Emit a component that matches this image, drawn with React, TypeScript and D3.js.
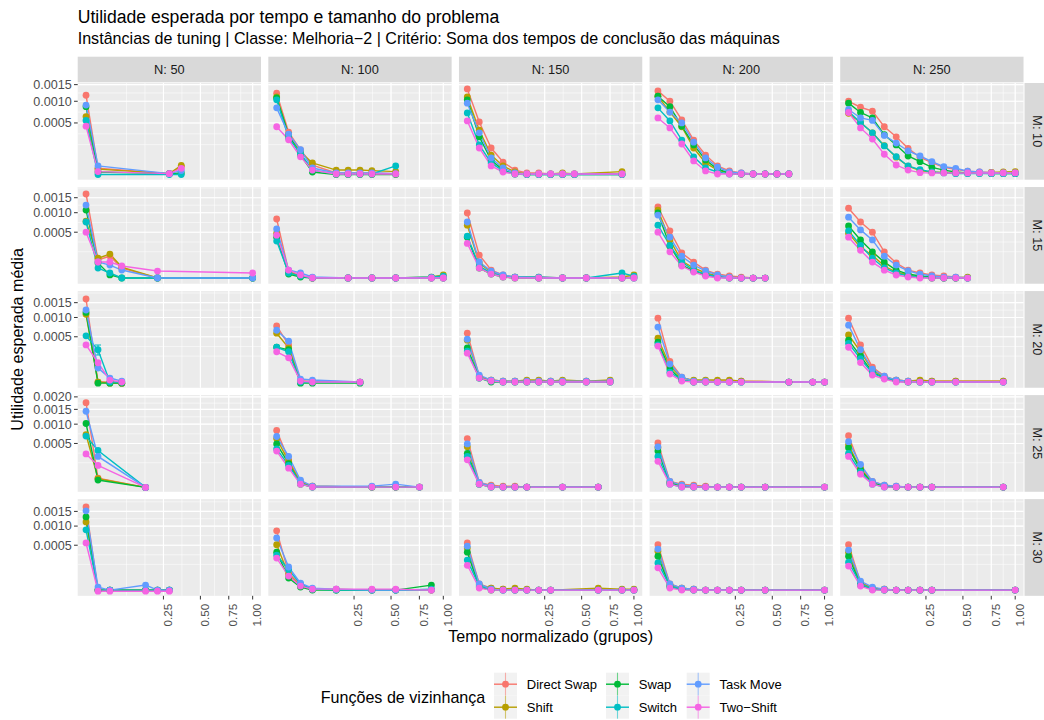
import React from 'react'
import * as d3 from 'd3'

// facet categories
const nValues = [50, 100, 150, 200, 250]
const mValues = [10, 15, 20, 25, 30]

const seriesNames = ['Direct Swap', 'Shift', 'Swap', 'Switch', 'Task Move', 'Two\u2212Shift']
const seriesColors = ['#F8766D', '#B79F00', '#00BA38', '#00BFC4', '#619CFF', '#F564E3']

// normalized time of each group (x values)
const timeBins = [0.0044, 0.0178, 0.04, 0.0711, 0.1111, 0.16, 0.2178, 0.2844, 0.36, 0.4444, 0.5378, 0.64, 0.7511, 0.8711, 1.0]

const xTicks = [0.25, 0.5, 0.75, 1.0]
const yTicks = [0.0005, 0.001, 0.0015, 0.002]
// limits of the y scale for each row (M)
const rowYMin = [0, 0, 0, 1.6e-6, 0]
const rowYMax = [0.00141, 0.00174, 0.00178, 0.00189, 0.00181]

// which time groups (1-based) each panel has, row-major: M10N50, M10N100, ... M30N250
const panelKs = [
  [1, 2, 8, 9],
  [1, 2, 3, 4, 6, 7, 8, 9, 11],
  [1, 2, 3, 4, 5, 6, 7, 8, 9, 10, 14],
  [1, 2, 3, 4, 5, 6, 7, 8, 9, 10, 11, 12],
  [1, 2, 3, 4, 5, 6, 7, 8, 9, 10, 11, 12, 13, 14, 15],
  [1, 2, 3, 4, 7, 15],
  [1, 2, 3, 4, 7, 9, 11, 14, 15],
  [1, 2, 3, 4, 5, 7, 9, 11, 14, 15],
  [1, 2, 3, 4, 5, 6, 7, 8, 9, 10],
  [1, 2, 3, 4, 5, 6, 7, 8, 9, 10, 11],
  [1, 2, 3, 4],
  [1, 2, 3, 4, 8],
  [1, 2, 3, 4, 5, 6, 7, 8, 9, 11, 13],
  [1, 2, 3, 4, 5, 6, 7, 8, 12, 14, 15],
  [1, 2, 3, 4, 5, 6, 7, 8, 10, 14],
  [1, 2, 6],
  [1, 2, 3, 4, 9, 11, 13],
  [1, 2, 3, 4, 5, 6, 9, 12],
  [1, 2, 3, 4, 5, 6, 7, 8, 10, 15],
  [1, 2, 3, 4, 5, 6, 7, 8, 14],
  [1, 2, 3, 6, 7, 8],
  [1, 2, 3, 4, 6, 9, 11, 14],
  [1, 2, 3, 4, 5, 6, 7, 8, 12, 14, 15],
  [1, 2, 3, 4, 5, 6, 7, 8, 10, 15],
  [1, 2, 3, 4, 5, 6, 7, 8, 15],
]

const directSwap = [
  [1.17e-3, 9e-6, 5e-7, 1.4e-5],
  [1.23e-3, 3.4e-4, 1.17e-4, 1.9e-5, 1e-6, 1e-6, 1e-6, 1e-6, 5e-7],
  [1.36e-3, 5.2e-4, 1.36e-4, 3.2e-5, 5e-6, 1e-6, 1e-6, 3e-7, 3e-7, 3e-7, 3e-7],
  [1.3e-3, 1.0e-3, 5.6e-4, 2.26e-4, 7.5e-5, 1.6e-5, 3.5e-6, 1e-6, 3e-7, 3e-7, 3e-7, 3e-7],
  [1.0e-3, 8.45e-4, 7.5e-4, 4.3e-4, 2.7e-4, 1.33e-4, 5.9e-5, 2.9e-5, 1.15e-5, 6.5e-6, 3e-6, 2e-6, 1.5e-6, 1e-6, 1e-6],
  [1.64e-3, 8.4e-5, 1.22e-4, 2.85e-5, 4e-7, 4e-7],
  [8.2e-4, 1.55e-5, 2.4e-6, 4e-7, 4e-7, 4e-7, 4e-7, 4e-7, 4e-7],
  [9.9e-4, 1.33e-4, 1.95e-5, 4.2e-6, 1.2e-6, 1.2e-6, 4e-7, 4e-7, 4e-7, 1.2e-6],
  [1.18e-3, 5.3e-4, 1.56e-4, 6.7e-5, 1.9e-5, 6.3e-6, 2.5e-6, 1.2e-6, 3.8e-7, 3.8e-7],
  [1.14e-3, 7.4e-4, 5.0e-4, 1.7e-4, 6.0e-5, 1.9e-5, 9e-6, 4.2e-6, 2.5e-6, 1.2e-6, 3.8e-7],
  [1.64e-3, 3.9e-7, 3.9e-7, 1e-8],
  [7.6e-4, 3.4e-4, 1.2e-6, 1.2e-6, 3.9e-7],
  [5.8e-4, 1.2e-5, 2.5e-6, 1.2e-6, 1.2e-6, 1.2e-6, 1.2e-6, 1.2e-6, 1.2e-6, 1.2e-6, 1.2e-6],
  [9.8e-4, 1.1e-4, 9.2e-6, 1.2e-6, 1.2e-6, 1.2e-6, 1.2e-6, 1.2e-6, 3.9e-7, 3.9e-7, 3.9e-7],
  [9.8e-4, 3.4e-4, 6.1e-5, 1.2e-5, 2.5e-6, 1.2e-6, 1.2e-6, 1.2e-6, 1.2e-6, 1.2e-6],
  [1.76e-3, 3.2e-5, 1.6e-6],
  [8.2e-4, 2.1e-4, 1.7e-5, 3.5e-6, 2e-6, 2e-6, 2e-6],
  [6.1e-4, 1.3e-5, 5.6e-6, 3.5e-6, 3.5e-6, 2e-6, 2e-6, 2e-6],
  [5.1e-4, 1.7e-5, 8e-6, 5.6e-6, 3.5e-6, 2e-6, 2e-6, 2e-6, 2e-6, 2e-6],
  [6.8e-4, 1.2e-4, 1.7e-5, 5.6e-6, 3.5e-6, 2e-6, 2e-6, 2e-6, 2e-6],
  [1.67e-3, 4e-7, 4e-7, 4e-7, 4e-7, 4e-7],
  [8.6e-4, 7.9e-5, 9.4e-6, 1.2e-6, 1.2e-6, 4e-7, 4e-7, 4e-7],
  [5.5e-4, 1.3e-5, 2.6e-6, 1.2e-6, 4e-7, 4e-7, 4e-7, 4e-7, 4e-7, 4e-7, 4e-7],
  [5.1e-4, 1.3e-5, 2.6e-6, 1.2e-6, 4e-7, 4e-7, 4e-7, 4e-7, 4e-7, 4e-7],
  [5.1e-4, 2.0e-5, 2.6e-6, 1.2e-6, 4e-7, 4e-7, 4e-7, 4e-7, 4e-7],
]

const shift = [
  [6.3e-4, 7e-6, 5e-7, 1.8e-5],
  [1.12e-3, 2.85e-4, 9.9e-5, 2.8e-5, 5e-6, 5e-6, 5e-6, 4e-6, 2.5e-6],
  [1.12e-3, 3.7e-4, 7.5e-5, 1.6e-5, 2e-6, 3e-7, 3e-7, 3e-7, 1e-6, 3e-7, 2.5e-6],
  [1.14e-3, 7.3e-4, 4.3e-4, 1.36e-4, 2.8e-5, 5e-6, 1e-6, 3e-7, 3e-7, 3e-7, 3e-7, 3e-7],
  [7.0e-4, 5.1e-4, 3.3e-4, 1.6e-4, 6e-5, 1.5e-5, 4e-6, 2e-6, 1.5e-6, 1e-6, 1e-6, 1e-6, 1.5e-6, 2e-6, 2.5e-6],
  [7.6e-4, 1.0e-4, 1.44e-4, 3.4e-5, 4e-7, 4e-7],
  [4.8e-4, 1.2e-5, 2.4e-6, 4e-7, 4e-7, 4e-7, 4e-7, 1.2e-6, 4.2e-6],
  [6.6e-4, 6e-5, 1.2e-5, 2.4e-6, 1.2e-6, 4e-7, 4e-7, 4e-7, 1.2e-6, 4.2e-6],
  [1.08e-3, 3.5e-4, 7.5e-5, 2.9e-5, 9e-6, 2.5e-6, 1.2e-6, 3.8e-7, 3.8e-7, 3.8e-7],
  [4.8e-4, 2.3e-4, 1.3e-4, 4.0e-5, 1.2e-5, 4.2e-6, 1.2e-6, 3.8e-7, 3.8e-7, 3.8e-7, 1.2e-6],
  [1.1e-3, 3.9e-7, 1e-8, 1e-8],
  [5.8e-4, 2.9e-4, 1.2e-6, 3.9e-7, 3.9e-7],
  [4.3e-4, 9.2e-6, 2.5e-6, 1.2e-6, 1.2e-6, 2.5e-6, 2.5e-6, 1.2e-6, 2.5e-6, 1.2e-6, 2.5e-6],
  [4.7e-4, 6.9e-5, 6.5e-6, 2.5e-6, 2.5e-6, 2.5e-6, 2.5e-6, 1.2e-6, 3.9e-7, 3.9e-7, 3.9e-7],
  [5.4e-4, 2.3e-4, 4.1e-5, 9.2e-6, 2.5e-6, 1.2e-6, 2.5e-6, 1.2e-6, 1.2e-6, 1.2e-6],
  [7.1e-4, 3.0e-5, 1.6e-6],
  [6.1e-4, 1.9e-4, 1.3e-5, 3.5e-6, 2e-6, 2e-6, 2e-6],
  [4.3e-4, 1.0e-5, 3.5e-6, 2e-6, 2e-6, 2e-6, 2e-6, 2e-6],
  [4.1e-4, 1.3e-5, 5.6e-6, 3.5e-6, 2e-6, 2e-6, 2e-6, 2e-6, 2e-6, 2e-6],
  [4.7e-4, 1.0e-4, 1.3e-5, 3.5e-6, 2e-6, 2e-6, 2e-6, 2e-6, 2e-6],
  [1.13e-3, 4e-7, 4e-7, 4e-7, 4e-7, 4e-7],
  [5.1e-4, 6.3e-5, 6.6e-6, 1.2e-6, 4e-7, 4e-7, 4e-7, 4e-7],
  [4.4e-4, 9.4e-6, 2.6e-6, 1.2e-6, 2.6e-6, 1.2e-6, 4e-7, 4e-7, 2.6e-6, 1.2e-6, 1.2e-6],
  [3.8e-4, 9.4e-6, 2.6e-6, 1.2e-6, 4e-7, 4e-7, 4e-7, 4e-7, 4e-7, 4e-7],
  [3.6e-4, 1.6e-5, 2.6e-6, 1.2e-6, 4e-7, 4e-7, 4e-7, 4e-7, 4e-7],
]

const swap = [
  [8.6e-4, 2e-6, 5e-7, 1e-6],
  [1.09e-3, 3.0e-4, 7.5e-5, 2e-6, 1e-7, 1e-7, 1e-7, 1e-7, 1e-7],
  [1.04e-3, 2.7e-4, 4.3e-5, 5e-6, 3e-7, 1e-7, 1e-7, 1e-7, 1e-7, 1e-7, 1e-7],
  [1.14e-3, 8.6e-4, 4.4e-4, 1.68e-4, 4.3e-5, 7e-6, 1e-6, 3e-7, 3e-7, 3e-7, 3e-7, 3e-7],
  [9.5e-4, 7.2e-4, 6.0e-4, 3.0e-4, 1.68e-4, 6.8e-5, 3.4e-5, 1.15e-5, 5e-6, 2e-6, 1e-6, 1e-6, 5e-7, 5e-7, 5e-7],
  [1.08e-3, 6e-5, 4.3e-6, 4e-7, 4e-7, 4e-7],
  [4.0e-4, 6.3e-6, 1.2e-6, 4e-7, 4e-7, 4e-7, 4e-7, 4e-7, 4e-7],
  [4.0e-4, 2.85e-5, 6.3e-6, 1.2e-6, 4e-7, 4e-7, 4e-7, 4e-7, 4e-7, 4e-7],
  [9.9e-4, 2.5e-4, 4.6e-5, 1.6e-5, 4.2e-6, 1.2e-6, 3.8e-7, 3.8e-7, 3.8e-7, 3.8e-7],
  [6.4e-4, 3.5e-4, 1.7e-4, 6.7e-5, 1.9e-5, 6.3e-6, 2.5e-6, 1.2e-6, 3.8e-7, 3.8e-7, 3.8e-7],
  [1.16e-3, 1e-8, 1e-8, 1e-8],
  [3.0e-4, 2.6e-4, 1e-8, 1e-8, 1e-8],
  [2.9e-4, 6.5e-6, 3.9e-7, 3.9e-7, 3.9e-7, 3.9e-7, 3.9e-7, 3.9e-7, 3.9e-7, 3.9e-7, 3.9e-7],
  [3.9e-4, 4.7e-5, 2.5e-6, 3.9e-7, 3.9e-7, 3.9e-7, 3.9e-7, 3.9e-7, 3.9e-7, 3.9e-7, 3.9e-7],
  [4.3e-4, 1.7e-4, 2.9e-5, 6.5e-6, 1.2e-6, 3.9e-7, 3.9e-7, 3.9e-7, 3.9e-7, 3.9e-7],
  [1.02e-3, 2.3e-5, 1.6e-6],
  [4.9e-4, 1.6e-4, 8e-6, 2e-6, 2e-6, 2e-6, 2e-6],
  [3.1e-4, 8e-6, 2e-6, 2e-6, 2e-6, 2e-6, 2e-6, 2e-6],
  [3.5e-4, 1.1e-5, 3.5e-6, 2e-6, 2e-6, 2e-6, 2e-6, 2e-6, 2e-6, 2e-6],
  [4.1e-4, 9.3e-5, 1.1e-5, 3.5e-6, 2e-6, 2e-6, 2e-6, 2e-6, 2e-6],
  [1.3e-3, 4e-7, 4e-7, 4e-7, 4e-7, 4e-7],
  [3.6e-4, 4.2e-5, 4.4e-6, 4e-7, 4e-7, 4e-7, 4e-7, 9.4e-6],
  [3.6e-4, 4.4e-6, 4e-7, 4e-7, 4e-7, 4e-7, 4e-7, 4e-7, 4e-7, 4e-7, 4e-7],
  [2.9e-4, 4.4e-6, 1.2e-6, 4e-7, 4e-7, 4e-7, 4e-7, 4e-7, 4e-7, 4e-7],
  [2.9e-4, 9.4e-6, 1.2e-6, 4e-7, 4e-7, 4e-7, 4e-7, 4e-7, 4e-7],
]

const switchMoves = [
  [5.5e-4, 1e-7, 1e-7, 1e-7],
  [1.04e-3, 2.5e-4, 8.8e-5, 5e-6, 3e-7, 3e-7, 3e-7, 3e-7, 1.6e-5],
  [7.1e-4, 1.68e-4, 2.8e-5, 3.5e-6, 3e-7, 1e-7, 1e-7, 1e-7, 1e-7, 1e-7, 1e-7],
  [8.3e-4, 5.4e-4, 2.26e-4, 6.2e-5, 9.7e-6, 2e-6, 3e-7, 3e-7, 3e-7, 3e-7, 3e-7, 3e-7],
  [7.4e-4, 5.1e-4, 3.3e-4, 1.57e-4, 6.3e-5, 1.58e-5, 6e-6, 2e-6, 1e-6, 5e-7, 5e-7, 5e-7, 5e-7, 5e-7, 5e-7],
  [7.4e-4, 2.85e-5, 9e-6, 4e-7, 4e-7, 4e-7],
  [3.3e-4, 9e-6, 2.4e-6, 4e-7, 4e-7, 4e-7, 4e-7, 1.2e-6, 2.4e-6],
  [4.2e-4, 3.9e-5, 9e-6, 2.4e-6, 1.2e-6, 1.2e-6, 4e-7, 4e-7, 9e-6, 2.4e-6],
  [6.6e-4, 2.6e-4, 6.7e-5, 1.9e-5, 6.3e-6, 1.2e-6, 3.8e-7, 3.8e-7, 3.8e-7, 3.8e-7],
  [5.3e-4, 2.6e-4, 1.0e-4, 2.9e-5, 9e-6, 2.5e-6, 1.2e-6, 3.8e-7, 3.8e-7, 3.8e-7, 3.8e-7],
  [5.2e-4, 2.6e-4, 3.9e-7, 3.9e-7],
  [3.0e-4, 2.3e-4, 3.9e-7, 3.9e-7, 3.9e-7],
  [2.4e-4, 6.5e-6, 1.2e-6, 3.9e-7, 3.9e-7, 3.9e-7, 3.9e-7, 3.9e-7, 3.9e-7, 3.9e-7, 3.9e-7],
  [3.4e-4, 2.9e-5, 2.5e-6, 3.9e-7, 3.9e-7, 3.9e-7, 3.9e-7, 3.9e-7, 3.9e-7, 3.9e-7, 3.9e-7],
  [3.7e-4, 1.4e-4, 2.4e-5, 6.5e-6, 1.2e-6, 3.9e-7, 3.9e-7, 3.9e-7, 3.9e-7, 3.9e-7],
  [6.7e-4, 3.6e-4, 1.6e-6],
  [3.9e-4, 1.4e-4, 1.1e-5, 2e-6, 2e-6, 2e-6, 2e-6],
  [2.6e-4, 8e-6, 2e-6, 2e-6, 2e-6, 2e-6, 2e-6, 2e-6],
  [2.6e-4, 8e-6, 2e-6, 2e-6, 2e-6, 2e-6, 2e-6, 2e-6, 2e-6, 2e-6],
  [3.1e-4, 7.5e-5, 8e-6, 2e-6, 2e-6, 2e-6, 2e-6, 2e-6, 2e-6],
  [8.9e-4, 4e-7, 4e-7, 4e-7, 4e-7, 4e-7],
  [3.1e-4, 1.1e-4, 1.3e-5, 1.2e-6, 4e-7, 4e-7, 4e-7, 1.2e-6],
  [2.3e-4, 6.6e-6, 1.2e-6, 4e-7, 4e-7, 4e-7, 4e-7, 4e-7, 4e-7, 4e-7, 4e-7],
  [1.9e-4, 6.6e-6, 1.2e-6, 4e-7, 4e-7, 4e-7, 4e-7, 4e-7, 4e-7, 4e-7],
  [2.0e-4, 1.3e-5, 1.2e-6, 4e-7, 4e-7, 4e-7, 4e-7, 4e-7, 4e-7],
]

const taskMove = [
  [9.0e-4, 1.6e-5, 5e-7, 4e-6],
  [8.3e-4, 3.1e-4, 1.2e-4, 9.7e-6, 1e-6, 1e-6, 1e-6, 1e-6, 5e-7],
  [9.5e-4, 3.3e-4, 5.5e-5, 9.7e-6, 1e-6, 3e-7, 3e-7, 3e-7, 3e-7, 3e-7, 3e-7],
  [1.04e-3, 7.3e-4, 5.0e-4, 2.0e-4, 5.5e-5, 1.25e-5, 2e-6, 1e-6, 3e-7, 3e-7, 3e-7, 3e-7],
  [7.9e-4, 6.0e-4, 5.5e-4, 2.9e-4, 1.9e-4, 1.08e-4, 6.8e-5, 3.4e-5, 1.35e-5, 9e-6, 3e-6, 2e-6, 1e-6, 1e-6, 1e-6],
  [1.24e-3, 6.75e-5, 4.6e-5, 1.95e-5, 4e-7, 4e-7],
  [5.7e-4, 1.95e-5, 9e-6, 1.2e-6, 4e-7, 4e-7, 4e-7, 4e-7, 4e-7],
  [7.4e-4, 6.75e-5, 1.55e-5, 4.2e-6, 1.2e-6, 4e-7, 4e-7, 4e-7, 4e-7, 4e-7],
  [9.3e-4, 4.0e-4, 1.2e-4, 4.6e-5, 1.6e-5, 4.2e-6, 1.2e-6, 3.8e-7, 3.8e-7, 3.8e-7],
  [8.7e-4, 5.5e-4, 3.5e-4, 1.2e-4, 4.6e-5, 1.6e-5, 6.3e-6, 2.5e-6, 1.2e-6, 1.2e-6, 3.8e-7],
  [1.24e-3, 5.4e-5, 6.5e-6, 1.2e-6],
  [6.5e-4, 4.1e-4, 4.3e-6, 2.5e-6, 3.9e-7],
  [4.5e-4, 1.6e-5, 2.5e-6, 1.2e-6, 1.2e-6, 1.2e-6, 1.2e-6, 1.2e-6, 1.2e-6, 1.2e-6, 1.2e-6],
  [7.3e-4, 8.6e-5, 9.2e-6, 1.2e-6, 1.2e-6, 3.9e-7, 3.9e-7, 3.9e-7, 3.9e-7, 3.9e-7, 3.9e-7],
  [7.8e-4, 2.6e-4, 4.7e-5, 1.2e-5, 2.5e-6, 1.2e-6, 3.9e-7, 3.9e-7, 3.9e-7, 3.9e-7],
  [1.43e-3, 2.6e-4, 1.6e-6],
  [6.6e-4, 2.6e-4, 2.2e-5, 3.5e-6, 3.5e-6, 8e-6, 2e-6],
  [4.9e-4, 1.3e-5, 3.5e-6, 2e-6, 2e-6, 2e-6, 2e-6, 2e-6],
  [4.3e-4, 1.7e-5, 5.6e-6, 3.5e-6, 2e-6, 2e-6, 2e-6, 2e-6, 2e-6, 2e-6],
  [5.4e-4, 1.5e-4, 1.7e-5, 5.6e-6, 3.5e-6, 2e-6, 2e-6, 2e-6, 2e-6],
  [1.52e-3, 4.4e-6, 4e-7, 9.4e-6, 4e-7, 4e-7],
  [6.7e-4, 1.4e-4, 1.6e-5, 2.6e-6, 1.2e-6, 4e-7, 4e-7, 4e-7],
  [4.8e-4, 1.3e-5, 1.2e-6, 4e-7, 4e-7, 4e-7, 4e-7, 4e-7, 4e-7, 4e-7, 4e-7],
  [4.2e-4, 1.3e-5, 2.6e-6, 1.2e-6, 4e-7, 4e-7, 4e-7, 4e-7, 4e-7, 4e-7],
  [4.0e-4, 2.5e-5, 4.4e-6, 1.2e-6, 4e-7, 4e-7, 4e-7, 4e-7, 4e-7],
]

const twoShift = [
  [4.4e-4, 2.5e-6, 5e-7, 9e-6],
  [4.3e-4, 2.3e-4, 6.2e-5, 5e-6, 3e-7, 3e-7, 3e-7, 3e-7, 3e-7],
  [5.4e-4, 1.36e-4, 1.6e-5, 2e-6, 3e-7, 3e-7, 3e-7, 3e-7, 3e-7, 3e-7, 3e-7],
  [6.0e-4, 4.1e-4, 1.79e-4, 3.75e-5, 3.5e-6, 3e-7, 3e-7, 3e-7, 3e-7, 3e-7, 3e-7, 3e-7],
  [7.2e-4, 4.1e-4, 2.4e-4, 8.1e-5, 1.93e-5, 5e-6, 1.3e-6, 1e-6, 1e-6, 1e-6, 1e-6, 1e-6, 1e-6, 1e-6, 1e-6],
  [5.0e-4, 6.75e-5, 6.75e-5, 4.0e-5, 1.54e-5, 9e-6],
  [4.4e-4, 1.95e-5, 4.3e-6, 4e-7, 4e-7, 4e-7, 4e-7, 4e-7, 4e-7],
  [2.9e-4, 2.85e-5, 6.3e-6, 1.2e-6, 4e-7, 4e-7, 4e-7, 4e-7, 4e-7, 4e-7],
  [5.0e-4, 1.7e-4, 4.0e-5, 1.2e-5, 2.5e-6, 3.8e-7, 3.8e-7, 3.8e-7, 3.8e-7, 3.8e-7],
  [4.0e-4, 1.9e-4, 6.7e-5, 1.9e-5, 4.2e-6, 1.2e-6, 3.8e-7, 3.8e-7, 3.8e-7, 3.8e-7, 3.8e-7],
  [3.4e-4, 9.8e-5, 2.5e-6, 3.9e-7],
  [2.3e-4, 1.5e-4, 1.2e-6, 3.9e-7, 3.9e-7],
  [2.1e-4, 6.5e-6, 1.2e-6, 3.9e-7, 3.9e-7, 3.9e-7, 3.9e-7, 3.9e-7, 3.9e-7, 3.9e-7, 3.9e-7],
  [3.2e-4, 2.0e-5, 1.2e-6, 3.9e-7, 3.9e-7, 3.9e-7, 3.9e-7, 3.9e-7, 3.9e-7, 3.9e-7, 3.9e-7],
  [3.0e-4, 1.0e-4, 1.6e-5, 4.3e-6, 3.9e-7, 3.9e-7, 3.9e-7, 3.9e-7, 3.9e-7, 3.9e-7],
  [3.0e-4, 1.4e-4, 1.6e-6],
  [3.5e-4, 1.1e-4, 8e-6, 2e-6, 2e-6, 2e-6, 2e-6],
  [2.1e-4, 8e-6, 2e-6, 2e-6, 2e-6, 2e-6, 2e-6, 2e-6],
  [1.9e-4, 8e-6, 2e-6, 2e-6, 2e-6, 2e-6, 2e-6, 2e-6, 2e-6, 2e-6],
  [2.6e-4, 5.8e-5, 8e-6, 2e-6, 2e-6, 2e-6, 2e-6, 2e-6, 2e-6],
  [5.5e-4, 1e-8, 1e-8, 1e-8, 1e-8, 1e-8],
  [2.6e-4, 5.5e-5, 6.6e-6, 1.2e-6, 1.2e-6, 1.2e-6, 1.2e-6, 4e-7],
  [1.6e-4, 2.6e-6, 4e-7, 4e-7, 4e-7, 4e-7, 4e-7, 4e-7, 4e-7, 4e-7, 4e-7],
  [1.3e-4, 2.6e-6, 4e-7, 4e-7, 4e-7, 4e-7, 4e-7, 4e-7, 4e-7, 4e-7],
  [1.5e-4, 6.6e-6, 4e-7, 4e-7, 4e-7, 4e-7, 4e-7, 4e-7, 4e-7],
]

const seriesValues = [directSwap, shift, swap, switchMoves, taskMove, twoShift]

// [panel, series, time group, lower, upper]
const errorBars = [[10, 3, 2, 1.85e-4, 3.4e-4]]

// layout
const FONT = '"Liberation Sans", Arial, Helvetica, sans-serif'
const PL = 77.7, PW = 183.3, GAP = 7.33, PT = 83, PH = 96.7, STRIP = 25.6

// ggplot-like minor breaks, in transformed (sqrt) space
function minorBreaks(majors: number[], lo: number, hi: number) {
  const b = [...majors]
  if (b.length < 2) return []
  const bd = b[1] - b[0]
  if (lo < b[0]) b.unshift(b[0] - bd)
  if (hi > b[b.length - 1]) b.push(b[b.length - 1] + bd)
  const out: number[] = []
  for (let i = 0; i < b.length - 1; i++) out.push(b[i], (b[i] + b[i + 1]) / 2)
  out.push(b[b.length - 1])
  return out.filter(t => t >= lo && t <= hi && t >= 0)
}

export default function App() {
  const fmt = d3.format('.4f')
  const grid: React.ReactNode[] = []
  const marks: React.ReactNode[] = []
  const axes: React.ReactNode[] = []

  const sx0 = Math.sqrt(timeBins[0]), sx1 = Math.sqrt(timeBins[timeBins.length - 1])
  const xLo = sx0 - 0.05 * (sx1 - sx0), xHi = sx1 + 0.05 * (sx1 - sx0)
  const xMajT = xTicks.map(Math.sqrt).filter(t => t >= xLo && t <= xHi)
  const xMinT = minorBreaks(xMajT, xLo, xHi)

  mValues.forEach((m, r) => {
    const top = PT + r * (PH + GAP)
    const padY = (PH * 0.05) / 1.1
    const y = d3.scaleSqrt().domain([rowYMin[r], rowYMax[r]]).range([top + PH - padY, top + padY])
    const s0 = Math.sqrt(rowYMin[r]), s1 = Math.sqrt(rowYMax[r])
    const yLo = s0 - 0.05 * (s1 - s0), yHi = s1 + 0.05 * (s1 - s0)
    const yMaj = yTicks.filter(v => Math.sqrt(v) <= yHi)
    const yMinT = minorBreaks(yMaj.map(Math.sqrt), yLo, yHi)

    nValues.forEach((n, c) => {
      const left = PL + c * (PW + GAP)
      const padX = (PW * 0.05) / 1.1
      const x = d3.scaleSqrt().domain([timeBins[0], timeBins[timeBins.length - 1]]).range([left + padX, left + PW - padX])
      const p = r * 5 + c
      const key = `p${p}`

      grid.push(<rect key={key + 'bg'} x={left} y={top} width={PW} height={PH} fill="#EBEBEB" />)
      yMinT.forEach((t, i) => grid.push(<line key={key + 'ym' + i} x1={left} x2={left + PW} y1={y(t * t)} y2={y(t * t)} stroke="#fff" strokeWidth={0.55} />))
      xMinT.forEach((t, i) => grid.push(<line key={key + 'xm' + i} y1={top} y2={top + PH} x1={x(t * t)} x2={x(t * t)} stroke="#fff" strokeWidth={0.55} />))
      yMaj.forEach((v, i) => grid.push(<line key={key + 'yM' + i} x1={left} x2={left + PW} y1={y(v)} y2={y(v)} stroke="#fff" strokeWidth={1.1} />))
      xMajT.forEach((t, i) => grid.push(<line key={key + 'xM' + i} y1={top} y2={top + PH} x1={x(t * t)} x2={x(t * t)} stroke="#fff" strokeWidth={1.1} />))

      // error bars
      errorBars.filter(e => e[0] === p).forEach((e, i) => {
        const cx = x(timeBins[e[2] - 1])
        marks.push(
          <path key={key + 'eb' + i} d={`M${cx - 3},${y(e[4])}H${cx + 3}M${cx},${y(e[4])}V${y(e[3])}M${cx - 3},${y(e[3])}H${cx + 3}`}
            stroke={seriesColors[e[1]]} strokeWidth={1.1} fill="none" />
        )
      })

      const ks = panelKs[p]
      const line = d3.line<[number, number]>().x(d => x(d[0])).y(d => y(d[1]))
      const pts = seriesValues.map(sv => ks.map((k, i) => [timeBins[k - 1], sv[p][i]] as [number, number]).filter(d => d[1] != null))
      pts.forEach((d, s) => marks.push(<path key={key + 'l' + s} d={line(d) || ''} fill="none" stroke={seriesColors[s]} strokeWidth={1.4} />))
      pts.forEach((d, s) => d.forEach((q, i) => marks.push(<circle key={key + 'c' + s + '_' + i} cx={x(q[0])} cy={y(q[1])} r={3.4} fill={seriesColors[s]} />)))

      // top strips
      if (r === 0) {
        axes.push(<rect key={'st' + c} x={left} y={PT - STRIP - 0.7} width={PW} height={STRIP} fill="#D9D9D9" />)
        axes.push(<text key={'stt' + c} x={left + PW / 2} y={PT - STRIP / 2 - 0.7} dy="0.35em" textAnchor="middle" fontSize={12.8} fill="#1A1A1A">{`N: ${n}`}</text>)
      }
      // bottom axis
      if (r === mValues.length - 1) {
        xMajT.forEach((t, i) => {
          const px = x(t * t)
          axes.push(<line key={key + 'xt' + i} x1={px} x2={px} y1={top + PH} y2={top + PH + 3.67} stroke="#333" strokeWidth={1} />)
          axes.push(<text key={key + 'xl' + i} transform={`translate(${px},${top + PH + 8}) rotate(-90)`} dy="0.72em" textAnchor="end" fontSize={11.7} fill="#4D4D4D">{xTicks[i].toFixed(2)}</text>)
        })
      }
    })

    // left axis
    yMaj.forEach((v, i) => {
      axes.push(<line key={'yt' + r + i} x1={PL - 3.67} x2={PL} y1={y(v)} y2={y(v)} stroke="#333" strokeWidth={1} />)
      axes.push(<text key={'yl' + r + i} x={PL - 5.9} y={y(v)} dy="0.35em" textAnchor="end" fontSize={12.6} fill="#4D4D4D">{fmt(v)}</text>)
    })
    // right strip
    const rx = PL + 5 * PW + 4 * GAP + 1
    axes.push(<rect key={'rs' + r} x={rx} y={top} width={STRIP} height={PH} fill="#D9D9D9" />)
    axes.push(<text key={'rst' + r} transform={`translate(${rx + STRIP / 2},${top + PH / 2}) rotate(90)`} dy="0.35em" textAnchor="middle" fontSize={12.8} fill="#1A1A1A">{`M: ${m}`}</text>)
  })

  const plotMidX = PL + (5 * PW + 4 * GAP) / 2
  const plotMidY = PT + (5 * PH + 4 * GAP) / 2

  // legend
  const keyX = [494, 606, 686.7]
  const keyY = [672.7, 695.7]
  const KS = 23

  return (
    <svg width={1044} height={720} style={{ display: 'block', position: 'absolute', left: 0, top: 0 }} fontFamily={FONT}>
      <rect width={1044} height={720} fill="#fff" />
      <text x={PL} y={22.7} fontSize={17.6} fill="#000">Utilidade esperada por tempo e tamanho do problema</text>
      <text x={PL} y={44.3} fontSize={16.1} fill="#000">Instâncias de tuning | Classe: Melhoria−2 | Critério: Soma dos tempos de conclusão das máquinas</text>
      {grid}
      {marks}
      {axes}
      <text x={plotMidX} y={642} textAnchor="middle" fontSize={16.1} fill="#000">Tempo normalizado (grupos)</text>
      <text transform={`translate(22.8,${plotMidY}) rotate(-90)`} textAnchor="middle" fontSize={16.1} fill="#000">Utilidade esperada média</text>
      <text x={320.7} y={703.3} fontSize={16.1} fill="#000">Funções de vizinhança</text>
      {seriesNames.map((name, i) => {
        const kx = keyX[Math.floor(i / 2)], ky = keyY[i % 2]
        return (
          <g key={'lg' + i}>
            <rect x={kx} y={ky} width={KS} height={KS} fill="#F2F2F2" />
            <line x1={kx + KS / 2} x2={kx + KS / 2} y1={ky} y2={ky + KS} stroke={seriesColors[i]} strokeWidth={1.1} opacity={0.55} />
            <line x1={kx} x2={kx + KS} y1={ky + KS / 2} y2={ky + KS / 2} stroke={seriesColors[i]} strokeWidth={1.4} />
            <circle cx={kx + KS / 2} cy={ky + KS / 2} r={3.4} fill={seriesColors[i]} />
            <text x={kx + KS + 9.8} y={ky + KS / 2} dy="0.35em" fontSize={13} fill="#000">{name}</text>
          </g>
        )
      })}
    </svg>
  )
}
